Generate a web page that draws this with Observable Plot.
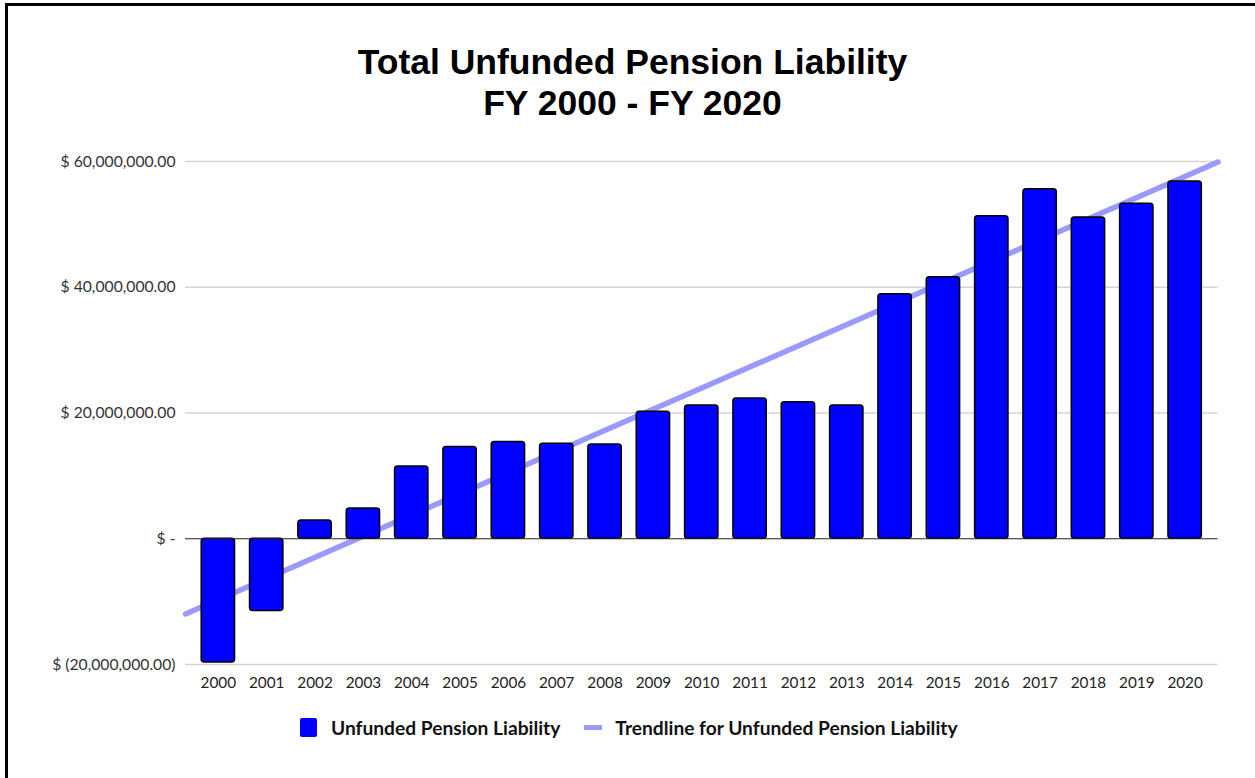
<!DOCTYPE html>
<html>
<head>
<meta charset="utf-8">
<script src="https://cdn.jsdelivr.net/npm/d3@7"></script>
<script src="https://cdn.jsdelivr.net/npm/@observablehq/plot@0.6"></script>
<style>
  html, body { margin: 0; padding: 0; background: #fff; width: 1255px; height: 778px; overflow: hidden; }
  #frame { position: absolute; left: 5px; top: 3px; width: 1400px; height: 900px; border-left: 3px solid #000; border-top: 3px solid #000; }
  #title { position: absolute; left: 10px; top: 42px; width: 1245px; text-align: center; font-family: "Liberation Sans", Arial, sans-serif; font-weight: bold; font-size: 35.5px; line-height: 41px; color: #000; }
  #chart { position: absolute; left: 0; top: 140px; }
  #legend { position: absolute; left: 300px; top: 716px; display: flex; align-items: center; font-family: Lato, sans-serif; font-weight: bold; font-size: 19.2px; color: #111; }
  .sw-bar { width: 17px; height: 19px; background: #0000ff; border-radius: 2px; margin-right: 14px; }
  .sw-line { width: 18px; height: 5px; background: #9999ff; margin-left: 24px; margin-right: 13px; }
</style>
</head>
<body>
<div id="frame"></div>
<div id="title">Total Unfunded Pension Liability<br>FY 2000 - FY 2020</div>
<div id="chart"></div>
<div id="legend">
  <div class="sw-bar"></div><span>Unfunded Pension Liability</span>
  <div class="sw-line"></div><span>Trendline for Unfunded Pension Liability</span>
</div>
<script>
const years = [2000, 2001, 2002, 2003, 2004, 2005, 2006, 2007, 2008, 2009, 2010,
               2011, 2012, 2013, 2014, 2015, 2016, 2017, 2018, 2019, 2020];
const liability = [-19.7e6, -11.5e6, 2.9e6, 4.8e6, 11.5e6, 14.6e6, 15.4e6, 15.1e6, 15.0e6, 20.2e6, 21.2e6,
                   22.3e6, 21.7e6, 21.2e6, 38.9e6, 41.6e6, 51.3e6, 55.6e6, 51.1e6, 53.3e6, 56.8e6];
const yTicks = [-20e6, 0, 20e6, 40e6, 60e6];

const data = years.map((year, i) => ({year, value: liability[i]}));

// least-squares trendline computed from the data
const mx = d3.mean(years), my = d3.mean(liability);
const slope = d3.sum(years, (x, i) => (x - mx) * (liability[i] - my)) / d3.sum(years, x => (x - mx) ** 2);
const intercept = my - slope * mx;

const xDomain = [years[0] - 0.68, years[years.length - 1] + 0.68];
const trend = xDomain.map(x => ({x, y: intercept + slope * x}));

const fmt = d3.format(",.2f");
const money = d => d === 0 ? "$ -" : d < 0 ? `$ (${fmt(-d)})` : `$ ${fmt(d)}`;
const half = 0.345;

const chart = Plot.plot({
  width: 1255,
  height: 560,
  marginLeft: 185,
  marginRight: 37.5,
  marginTop: 21,
  marginBottom: 36,
  style: {fontFamily: "Lato, sans-serif", fontSize: "15px", background: "transparent"},
  x: {type: "linear", domain: xDomain, label: null},
  y: {domain: [yTicks[0], yTicks[yTicks.length - 1]], label: null},
  marks: [
    Plot.ruleY(yTicks.filter(d => d !== 0), {stroke: "#d4d4d4", strokeWidth: 1.5}),
    Plot.line(trend, {x: "x", y: "y", stroke: "#9999ff", strokeWidth: 5.5}),
    Plot.rectY(data, {x1: d => d.year - half, x2: d => d.year + half, y1: 0, y2: "value",
      fill: "#0000ff", stroke: "#000", strokeWidth: 1.5, rx: 3}),
    Plot.ruleY([0], {stroke: "#222", strokeWidth: 1.2}),
    Plot.axisY({ticks: yTicks, tickFormat: money, tickSize: 0, tickPadding: 10, fill: "#333", fontSize: 15.7}),
    Plot.axisX({ticks: years, tickFormat: d => String(d), tickSize: 0, tickPadding: 13, fill: "#222", fontSize: 15.3})
  ]
});
document.getElementById("chart").appendChild(chart);
</script>
</body>
</html>
